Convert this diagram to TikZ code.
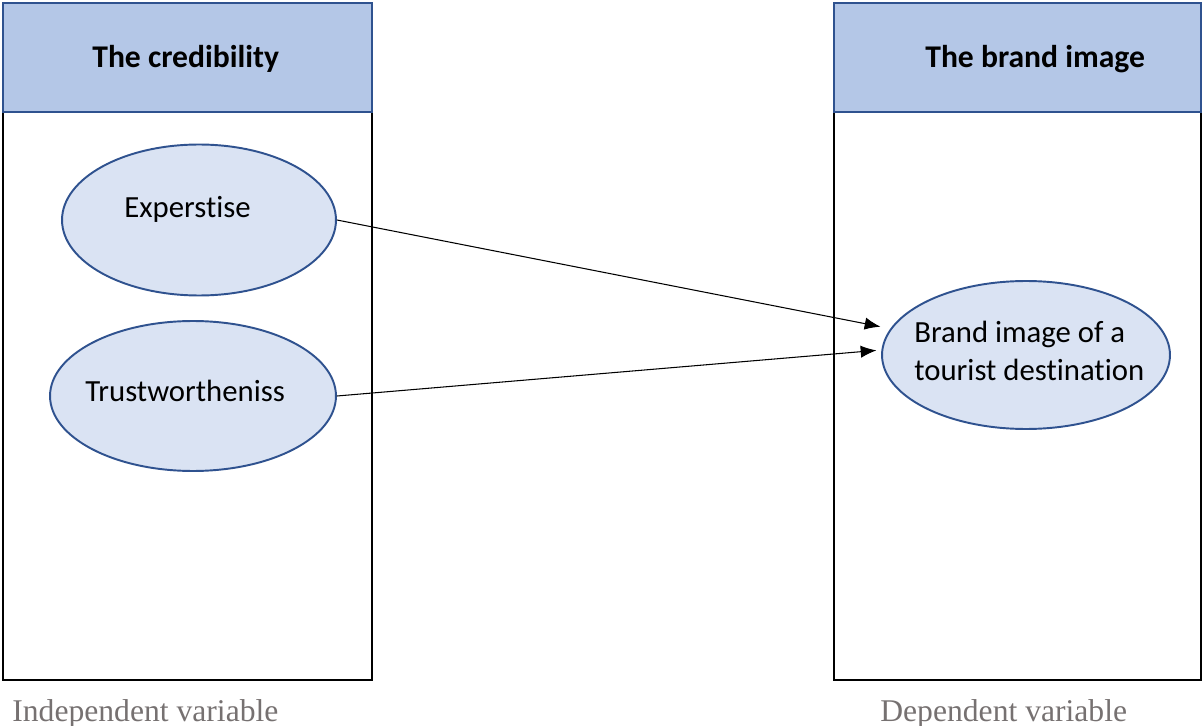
\documentclass[tikz,border=0pt]{standalone}
\usepackage{fontspec}
\setmainfont{Carlito}[Ligatures={NoCommon}]
\newfontfamily\capfont{Liberation Serif}
\usetikzlibrary{positioning,calc,shapes.geometric,arrows.meta}
\definecolor{headblue}{HTML}{B4C7E7}
\definecolor{edgeblue}{HTML}{2F528F}
\definecolor{ovalfill}{HTML}{DAE3F3}
\definecolor{capgray}{HTML}{767171}
\tikzset{
  colframe/.style={draw=black,line width=1.2pt},
  colhead/.style={draw=edgeblue,fill=headblue,line width=1.1pt},
  headtext/.style={font=\bfseries\fontsize{18}{22}\selectfont,inner sep=0pt,anchor=base west},
  oval/.style={ellipse,draw=edgeblue,fill=ovalfill,line width=1.1pt,inner sep=0pt},
  ovaltext/.style={font=\fontsize{17.5}{21.6}\selectfont,inner sep=0pt,anchor=base west},
  captext/.style={font=\capfont\fontsize{18}{22}\selectfont,text=capgray,inner sep=0pt,anchor=base west},
  link/.style={-{Latex[length=9pt,width=7pt]},line width=0.6pt}
}

\begin{document}
\begin{tikzpicture}[x=0.02cm,y=-0.02cm]
  \useasboundingbox (0,0) rectangle (1204,726);
  % independent side
  \draw[colframe] (3,112) rectangle (372,680);
  \draw[colhead] (3,3) rectangle (372,112);
  \node[headtext] (credhead) at (92,68) {The credibility};
  \node[oval,minimum width=5.48cm,minimum height=3.02cm] (expert) at (199,220) {};
  \node[ovaltext] (experttxt) at (124,218) {Experstise};
  \node[oval,minimum width=5.72cm,minimum height=3.0cm] (trust) at (193,396) {};
  \node[ovaltext] (trusttxt) at (85,401) {Trustwortheniss};
  \node[captext] (indcap) at (12,721) {Independent variable};
  % dependent side
  \draw[colframe] (834,112) rectangle (1201,680);
  \draw[colhead] (834,3) rectangle (1201,112);
  \node[headtext] (brandhead) at (925,68) {The brand image};
  \node[oval,minimum width=5.76cm,minimum height=2.96cm] (brand) at (1026,355) {};
  \node[ovaltext,align=left] (brandtxt) at (914,380) {Brand image of a\\tourist destination};
  \node[captext] (depcap) at (880,721) {Dependent variable};
  % links
  \draw[link,shorten >=5.7pt] (expert.east) -- (brand.169);
  \draw[link,shorten >=2.8pt] (trust.east) -- (brand.178);
\end{tikzpicture}
\end{document}
